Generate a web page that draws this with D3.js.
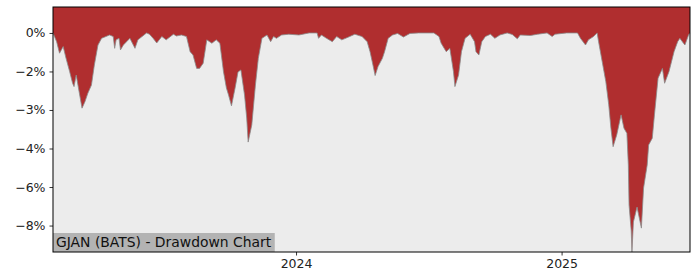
<!DOCTYPE html>
<html>
<head>
<meta charset="utf-8">
<script src="https://cdn.jsdelivr.net/npm/d3@7"></script>
<style>
  body { margin: 0; background: #fff; }
  svg { display: block; font-family: "DejaVu Sans", sans-serif; }
</style>
</head>
<body>
<svg id="chart" width="700" height="280"></svg>
<script>
// drawdown values (%)
const dates = [
  "2023-01-31","2023-02-05","2023-02-09","2023-02-14","2023-02-18","2023-02-23","2023-02-27","2023-03-01",
  "2023-03-04","2023-03-08","2023-03-12","2023-03-16","2023-03-20","2023-03-25","2023-03-29","2023-04-03",
  "2023-04-08","2023-04-19","2023-04-24","2023-04-26","2023-04-28","2023-05-02","2023-05-04","2023-05-08",
  "2023-05-17","2023-05-24","2023-05-28","2023-06-09","2023-06-13","2023-06-18","2023-06-23","2023-06-30",
  "2023-07-06","2023-07-16","2023-07-20","2023-07-27","2023-08-03","2023-08-08","2023-08-12","2023-08-17",
  "2023-08-21","2023-08-26","2023-08-31","2023-09-07","2023-09-13","2023-09-18","2023-09-23","2023-09-27",
  "2023-09-30","2023-10-04","2023-10-09","2023-10-13","2023-10-17","2023-10-22","2023-10-25","2023-10-27",
  "2023-11-01","2023-11-06","2023-11-10","2023-11-15","2023-11-22","2023-11-27","2023-12-01","2023-12-05",
  "2023-12-12","2023-12-22","2024-01-05","2024-01-19","2024-01-30","2024-02-01","2024-02-05","2024-02-12",
  "2024-02-20","2024-02-26","2024-03-04","2024-03-11","2024-03-22","2024-04-01","2024-04-08","2024-04-12",
  "2024-04-16","2024-04-19","2024-04-23","2024-04-29","2024-05-02","2024-05-07","2024-05-13","2024-05-20",
  "2024-05-28","2024-06-06","2024-06-18","2024-07-09","2024-07-16","2024-07-19","2024-07-26","2024-07-31",
  "2024-08-05","2024-08-07","2024-08-12","2024-08-16","2024-08-21","2024-08-28","2024-09-03","2024-09-05",
  "2024-09-09","2024-09-13","2024-09-18","2024-09-25","2024-10-01","2024-10-08","2024-10-18","2024-10-25",
  "2024-11-01","2024-11-05","2024-11-19","2024-11-29","2024-12-12","2024-12-19","2024-12-23","2025-01-08",
  "2025-01-23","2025-01-27","2025-02-03","2025-02-07","2025-02-14","2025-02-19","2025-02-21","2025-02-26",
  "2025-03-03","2025-03-07","2025-03-10","2025-03-13","2025-03-18","2025-03-24","2025-03-28","2025-04-01",
  "2025-04-03","2025-04-04","2025-04-07","2025-04-08","2025-04-10","2025-04-15","2025-04-21","2025-04-24",
  "2025-04-29","2025-05-01","2025-05-06","2025-05-09","2025-05-14","2025-05-20","2025-05-23","2025-05-29",
  "2025-06-05","2025-06-10","2025-06-13","2025-06-18","2025-06-20","2025-06-25","2025-06-27"
];
const drawdown = [
  0, -0.34, -0.79, -0.53, -0.99, -1.51, -1.96, -2.09,
  -1.64, -2.29, -2.93, -2.68, -2.35, -2.03, -1.25, -0.47,
  -0.21, -0.08, -0.14, -0.60, -0.27, -0.21, -0.66, -0.47,
  -0.21, -0.60, -0.27, 0, -0.05, -0.21, -0.39, -0.14,
  -0.27, -0.05, -0.12, -0.08, -0.14, -0.73, -0.86, -1.38,
  -1.38, -1.18, -0.27, -0.40, -0.27, -0.40, -1.51, -2.14,
  -2.42, -2.84, -2.14, -1.52, -1.44, -2.42, -3.31, -4.25,
  -3.58, -2.03, -0.99, -0.21, -0.08, -0.34, -0.14, -0.21,
  -0.08, -0.05, -0.08, 0, 0, -0.21, -0.08, -0.21,
  -0.34, -0.14, -0.27, -0.19, -0.05, -0.14, -0.34, -0.73,
  -1.25, -1.66, -1.31, -0.99, -0.73, -0.21, -0.08, -0.02,
  -0.16, -0.02, 0, 0, -0.14, -0.40, -0.73, -0.60,
  -1.51, -2.09, -1.64, -0.73, -0.21, -0.05, -0.34, -0.73,
  -0.86, -0.34, -0.14, -0.05, -0.21, -0.08, 0, -0.06,
  -0.23, -0.08, -0.10, -0.05, 0, -0.14, -0.05, 0,
  0, -0.21, -0.47, -0.27, -0.14, 0, -0.34, -1.12,
  -1.90, -2.80, -3.71, -4.43, -3.97, -3.19, -3.71, -3.91,
  -5.14, -6.70, -7.71, -8.53, -7.36, -6.78, -7.60, -6.04,
  -5.14, -4.36, -4.10, -3.19, -1.76, -1.38, -1.96, -1.51,
  -0.73, -0.34, -0.21, -0.40, -0.47, -0.08, 0
];
const yTicks = [0, -1.5, -3, -4.5, -6, -7.5];
const yTickLabels = ["0%", "\u22122%", "\u22123%", "\u22124%", "\u22126%", "\u22128%"];
const xTicks = ["2024-01-01", "2025-01-01"];
const xTickLabels = ["2024", "2025"];
const title = "GJAN (BATS) - Drawdown Chart";

const parse = d3.timeParse("%Y-%m-%d");
const rows = dates.map((d, i) => ({ date: parse(d), v: drawdown[i] }));

const svg = d3.select("#chart");
const pLeft = 53, pRight = 690, pTop = 7, pBottom = 252;

const x = d3.scaleTime()
  .domain(d3.extent(rows, d => d.date))
  .range([pLeft, pRight]);
const y = d3.scaleLinear()
  .domain([d3.min(drawdown), 1.01])
  .range([pBottom, pTop]);

// plot background
svg.append("rect")
  .attr("x", pLeft).attr("y", pTop)
  .attr("width", pRight - pLeft).attr("height", pBottom - pTop)
  .attr("fill", "#ececec");

// red area from the curve up to the top of the axes
const area = d3.area()
  .x(d => x(d.date))
  .y0(pTop)
  .y1(d => y(d.v));
svg.append("path")
  .datum(rows)
  .attr("d", area)
  .attr("fill", "#b02e2f");

const line = d3.line()
  .x(d => x(d.date))
  .y(d => y(d.v));
svg.append("path")
  .datum(rows)
  .attr("d", line)
  .attr("fill", "none")
  .attr("stroke", "#8a8a8a")
  .attr("stroke-width", 0.8);

// title box, bottom left
const tg = svg.append("g");
const tt = tg.append("text")
  .attr("x", pLeft + 3).attr("y", pBottom - 5)
  .attr("font-size", 13.9)
  .attr("fill", "#111")
  .text(title);
const bb = tt.node().getBBox();
tg.insert("rect", "text")
  .attr("x", pLeft).attr("y", pBottom - 19)
  .attr("width", bb.width + 6).attr("height", 19)
  .attr("fill", "#b3b3b3");

// axes
const yAxis = d3.axisLeft(y)
  .tickValues(yTicks)
  .tickFormat((d, i) => yTickLabels[i])
  .tickSize(3.5).tickPadding(4);
const gy = svg.append("g").attr("transform", `translate(${pLeft},0)`).call(yAxis);
gy.select(".domain").remove();

const xAxis = d3.axisBottom(x)
  .tickValues(xTicks.map(parse))
  .tickFormat((d, i) => xTickLabels[i])
  .tickSize(3.5).tickPadding(4);
const gx = svg.append("g").attr("transform", `translate(0,${pBottom})`).call(xAxis);
gx.select(".domain").remove();

svg.selectAll(".tick text")
  .attr("font-family", "DejaVu Sans")
  .attr("font-size", 12.5)
  .attr("fill", "#222");
svg.selectAll(".tick line").attr("stroke", "#000").attr("stroke-width", 0.8);

// frame
svg.append("rect")
  .attr("x", pLeft).attr("y", pTop)
  .attr("width", pRight - pLeft).attr("height", pBottom - pTop)
  .attr("fill", "none")
  .attr("stroke", "#000")
  .attr("stroke-width", 1);
</script>
</body>
</html>
